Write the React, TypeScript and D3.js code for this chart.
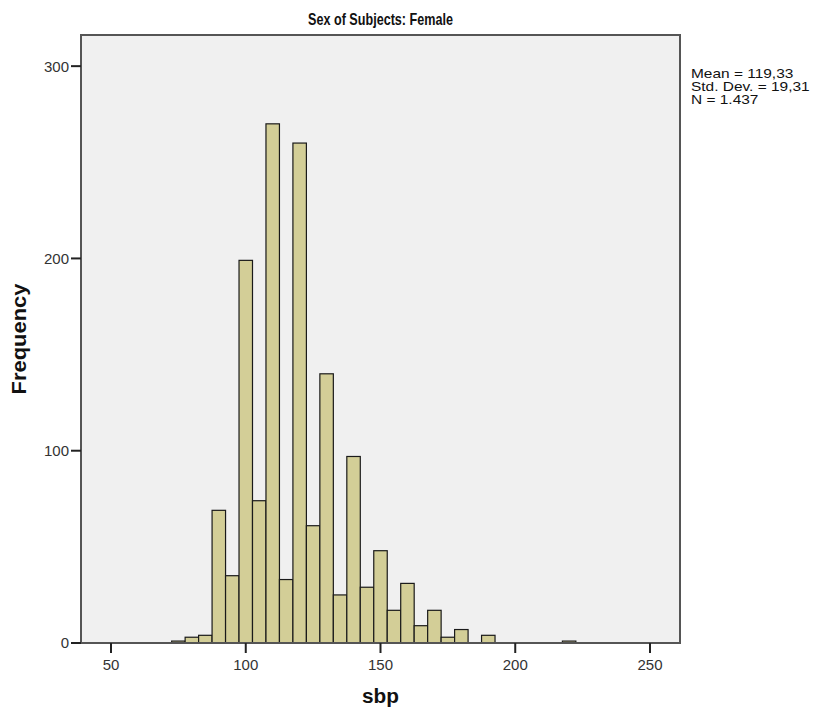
import React from "react";
import * as d3 from "d3";

const binMids = [75, 80, 85, 90, 95, 100, 105, 110, 115, 120, 125, 130, 135, 140, 145, 150, 155, 160, 165, 170, 175, 180, 185, 190, 195, 200, 205, 210, 215, 220];
const counts = [1, 3, 4, 69, 35, 199, 74, 270, 33, 260, 61, 140, 25, 97, 29, 48, 17, 31, 9, 17, 3, 7, 0, 4, 0, 0, 0, 0, 0, 1];
const binWidth = 5;
const xTicks = [50, 100, 150, 200, 250];
const yTicks = [0, 100, 200, 300];
const titleText = "Sex of Subjects: Female";
const xLabel = "sbp";
const yLabel = "Frequency";
const statsLines = ["Mean = 119,33", "Std. Dev. = 19,31", "N = 1.437"];

const W = 815, H = 711;
const L = 81, R = 680, T = 35, B = 643;
const FONT = "'Liberation Sans', Arial, sans-serif";

export default function App() {
  const x = d3.scaleLinear().domain([38.86, 261.14]).range([L, R]);
  const y = d3.scaleLinear().domain([0, 316.2]).range([B, T]);
  return (
    <svg width={W} height={H} style={{ position: "absolute", left: 0, top: 0, background: "#fff" }} fontFamily={FONT}>
      <rect x={L} y={T} width={R - L} height={B - T} fill="#F0F0F0" />
      {binMids.map((m, i) =>
        counts[i] > 0 ? (
          <rect key={i} x={x(m - binWidth / 2)} y={y(counts[i])} width={x(m + binWidth / 2) - x(m - binWidth / 2)} height={y(0) - y(counts[i])}
            fill="#D3CE97" stroke="#1a1a1a" strokeWidth={1.2} />
        ) : null
      )}
      <rect x={L} y={T} width={R - L} height={B - T} fill="none" stroke="#555" strokeWidth={2} />
      {yTicks.map((t) => (
        <g key={t}>
          <line x1={L - 10} x2={L} y1={y(t)} y2={y(t)} stroke="#222" strokeWidth={2} />
          <text x={L - 12} y={y(t)} dy="0.36em" textAnchor="end" fontSize={15} fill="#333">{t}</text>
        </g>
      ))}
      {xTicks.map((t) => (
        <g key={t}>
          <line x1={x(t)} x2={x(t)} y1={B} y2={B + 10} stroke="#222" strokeWidth={2} />
          <text x={x(t)} y={B + 27} textAnchor="middle" fontSize={15} fill="#333">{t}</text>
        </g>
      ))}
      <text x={(L + R) / 2} y={25} textAnchor="middle" fontSize={17} fontWeight="bold" fill="#111" textLength={145} lengthAdjust="spacingAndGlyphs">{titleText}</text>
      <text x={(L + R) / 2} y={703} textAnchor="middle" fontSize={20} fontWeight="bold" fill="#111" textLength={37} lengthAdjust="spacingAndGlyphs">{xLabel}</text>
      <text transform={`translate(26, ${(T + B) / 2}) rotate(-90)`} textAnchor="middle" fontSize={19.5} fontWeight="bold" fill="#111" textLength={111} lengthAdjust="spacingAndGlyphs">{yLabel}</text>
      <g transform="translate(691,0) scale(1.19,1)">
        {statsLines.map((s, i) => (
          <text key={i} x={0} y={78 + i * 12.8} fontSize={13} fill="#111">{s}</text>
        ))}
      </g>
    </svg>
  );
}
